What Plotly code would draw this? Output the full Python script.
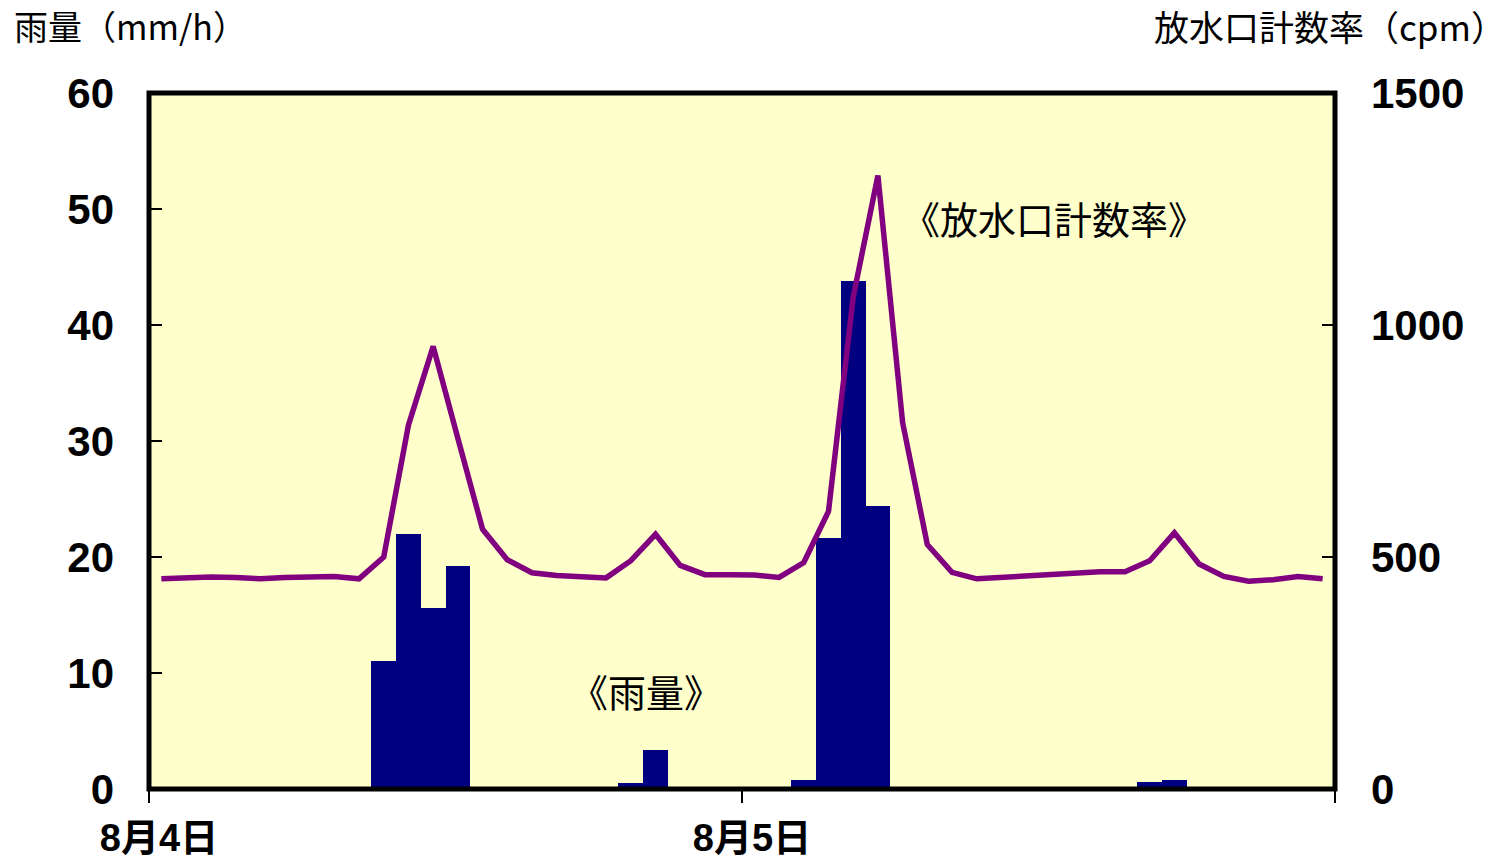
import plotly.graph_objects as go

# ---- data ----
hours = list(range(48))  # hourly slots from 8/4 00:00
rain_mm = [0, 0, 0, 0, 0, 0, 0, 0, 0, 11.0,
           22.0, 15.6, 19.2, 0, 0, 0, 0, 0, 0.2, 0.5,
           3.4, 0, 0, 0, 0, 0, 0.8, 21.6, 43.8, 24.4,
           0, 0, 0, 0, 0, 0, 0, 0, 0, 0,
           0.6, 0.8, 0, 0, 0, 0, 0, 0]
cpm = [453, 456, 457, 456, 453, 456, 458, 458, 453, 500,
       784, 954, 756, 560, 494, 466, 460, 457, 455, 492,
       549, 482, 462, 462, 461, 456, 488, 598, 1060, 1322,
       790, 527, 467, 453, 456, 458, 463, 465, 468, 468,
       492, 552, 485, 458, 448, 451, 458, 453]
x_tickvals = [0, 24, 48]
x_ticktext = ["8月4日", "8月5日", ""]
left_title = "雨量（mm/h）"
right_title = "放水口計数率（cpm）"
label_cpm = "《放水口計数率》"
label_rain = "《雨量》"

xc = [h + 0.5 for h in hours]

W, H = 1509, 859
L, R, T, B = 149, 174, 93, 70
PW, PH = W - L - R, H - T - B

def px_x(px):
    return (px - L) / PW

def px_y(py):
    return (H - B - py) / PH

NUM_FONT = dict(family="Liberation Sans, Arial, sans-serif", size=42, color="black", weight="bold")
CJK = "Noto Sans CJK JP, sans-serif"

fig = go.Figure()
fig.add_bar(x=xc, y=rain_mm, width=1, marker=dict(color="#000080", line=dict(width=0)),
            showlegend=False, hoverinfo="skip")
fig.add_scatter(x=xc, y=cpm, yaxis="y2", mode="lines",
                line=dict(color="#800080", width=5.5), showlegend=False, hoverinfo="skip")

fig.update_layout(
    width=W, height=H,
    margin=dict(l=L, r=R, t=T, b=B, pad=0),
    paper_bgcolor="white", plot_bgcolor="#FFFFCC",
    bargap=0,
    xaxis=dict(range=[0, 48], tickvals=x_tickvals, ticktext=x_ticktext, automargin=False,
               ticks="outside", ticklen=13, tickwidth=1.5, tickcolor="black",
               showline=False, showgrid=False, zeroline=False,
               ticklabelshift=10, ticklabelstandoff=2,
               tickfont=dict(family="Liberation Sans, Noto Sans CJK JP, sans-serif",
                             size=38, color="black", weight="bold")),
    yaxis=dict(range=[0, 60], dtick=10, ticks="inside", ticklen=13, tickwidth=1.5,
               tickcolor="black", showline=False, showgrid=False, zeroline=False,
               tickfont=NUM_FONT, ticklabelstandoff=34, automargin=False),
    yaxis2=dict(range=[0, 1500], dtick=500, overlaying="y", side="right",
                ticks="inside", ticklen=13, tickwidth=1.5, tickcolor="black",
                showline=False, showgrid=False, zeroline=False, tickfont=NUM_FONT,
                ticklabelstandoff=35, automargin=False),
)

# plot frame
fig.add_shape(type="rect", xref="paper", yref="paper", x0=0, x1=1, y0=0, y1=1,
              line=dict(color="black", width=5), layer="above")

fig.add_annotation(text=left_title, xref="paper", yref="paper",
                   x=px_x(12), y=px_y(25), xanchor="left", yanchor="middle",
                   showarrow=False, font=dict(family=CJK, size=34, color="black"))
fig.add_annotation(text=right_title, xref="paper", yref="paper",
                   x=px_x(1508), y=px_y(25), xanchor="right", yanchor="middle",
                   showarrow=False, font=dict(family=CJK, size=35, color="black"))
fig.add_annotation(text=label_cpm, xref="x", yref="y", x=36.63, y=49.3,
                   showarrow=False, font=dict(family=CJK, size=38, color="black"))
fig.add_annotation(text=label_rain, xref="x", yref="y", x=20.13, y=8.53,
                   showarrow=False, font=dict(family=CJK, size=38, color="black"))

fig.write_html("out.html", config={"displayModeBar": False},
               post_script="document.body.style.margin='0px';")
